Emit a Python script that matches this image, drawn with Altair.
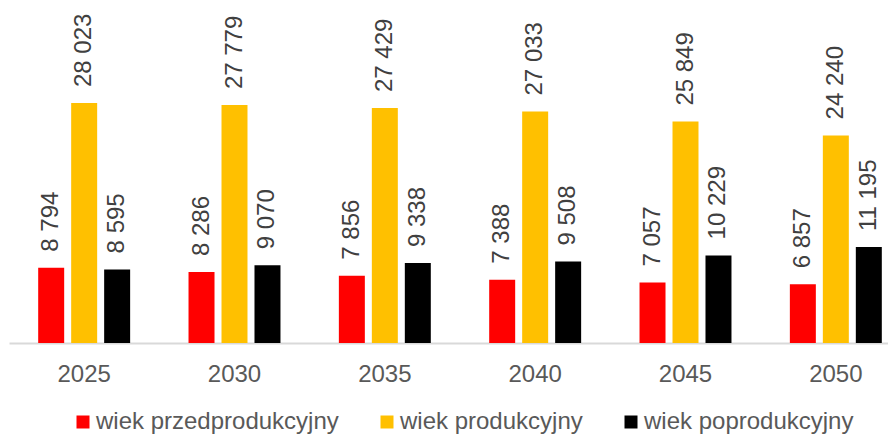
import altair as alt
import pandas as pd

years = ["2025", "2030", "2035", "2040", "2045", "2050"]
series = ["wiek przedprodukcyjny", "wiek produkcyjny", "wiek poprodukcyjny"]
pre = [8794, 8286, 7856, 7388, 7057, 6857]
prod = [28023, 27779, 27429, 27033, 25849, 24240]
post = [8595, 9070, 9338, 9508, 10229, 11195]
colors = ["#FF0000", "#FFC000", "#000000"]

rows = []
for s, vals in zip(series, [pre, prod, post]):
    for y, v in zip(years, vals):
        rows.append({"rok": y, "grupa": s, "wartosc": v,
                     "etykieta": f"{v:,}".replace(",", " ")})
df = pd.DataFrame(rows)

FONT = "Liberation Sans"
W, H = 880, 428
PLOT_H = 335

x = alt.X("rok:N", sort=years, title=None,
          scale=alt.Scale(range=[1, 903], paddingInner=0, paddingOuter=0),
          axis=alt.Axis(labelAngle=0, labelFontSize=24, labelColor="#595959",
                        labelFont=FONT, labelPadding=19, ticks=False, tickSize=0,
                        domainColor="#D9D9D9", domainWidth=2, grid=False,
                        offset=PLOT_H - H))
xo = alt.XOffset("grupa:N", sort=series,
                 scale=alt.Scale(paddingInner=0.212, paddingOuter=0.885))
y = alt.Y("wartosc:Q", axis=None,
          scale=alt.Scale(domain=[0, 39115], range=[PLOT_H, 0], nice=False, zero=True))

base = alt.Chart(df)

bars = base.mark_bar().encode(
    x=x, xOffset=xo, y=y,
    color=alt.Color("grupa:N", sort=series,
                    scale=alt.Scale(domain=series, range=colors),
                    legend=alt.Legend(title=None, orient="none", legendX=63, legendY=402,
                                      direction="horizontal", symbolType="square",
                                      symbolSize=169, symbolStrokeWidth=0,
                                      labelFontSize=24, labelColor="#595959",
                                      labelFont=FONT, labelOffset=1, labelLimit=400,
                                      columnPadding=36, padding=0)),
)

labels = base.mark_text(angle=270, align="left", baseline="middle", dx=16,
                        fontSize=24, font=FONT, color="#404040").encode(
    x=x, xOffset=xo, y=y, text="etykieta:N"
)

chart = alt.layer(bars, labels).properties(
    width=W, height=H, padding=0,
    autosize=alt.AutoSizeParams(type="none")
).configure_view(stroke=None)

chart.save("out.html", embed_options={"renderer": "svg", "actions": False})
